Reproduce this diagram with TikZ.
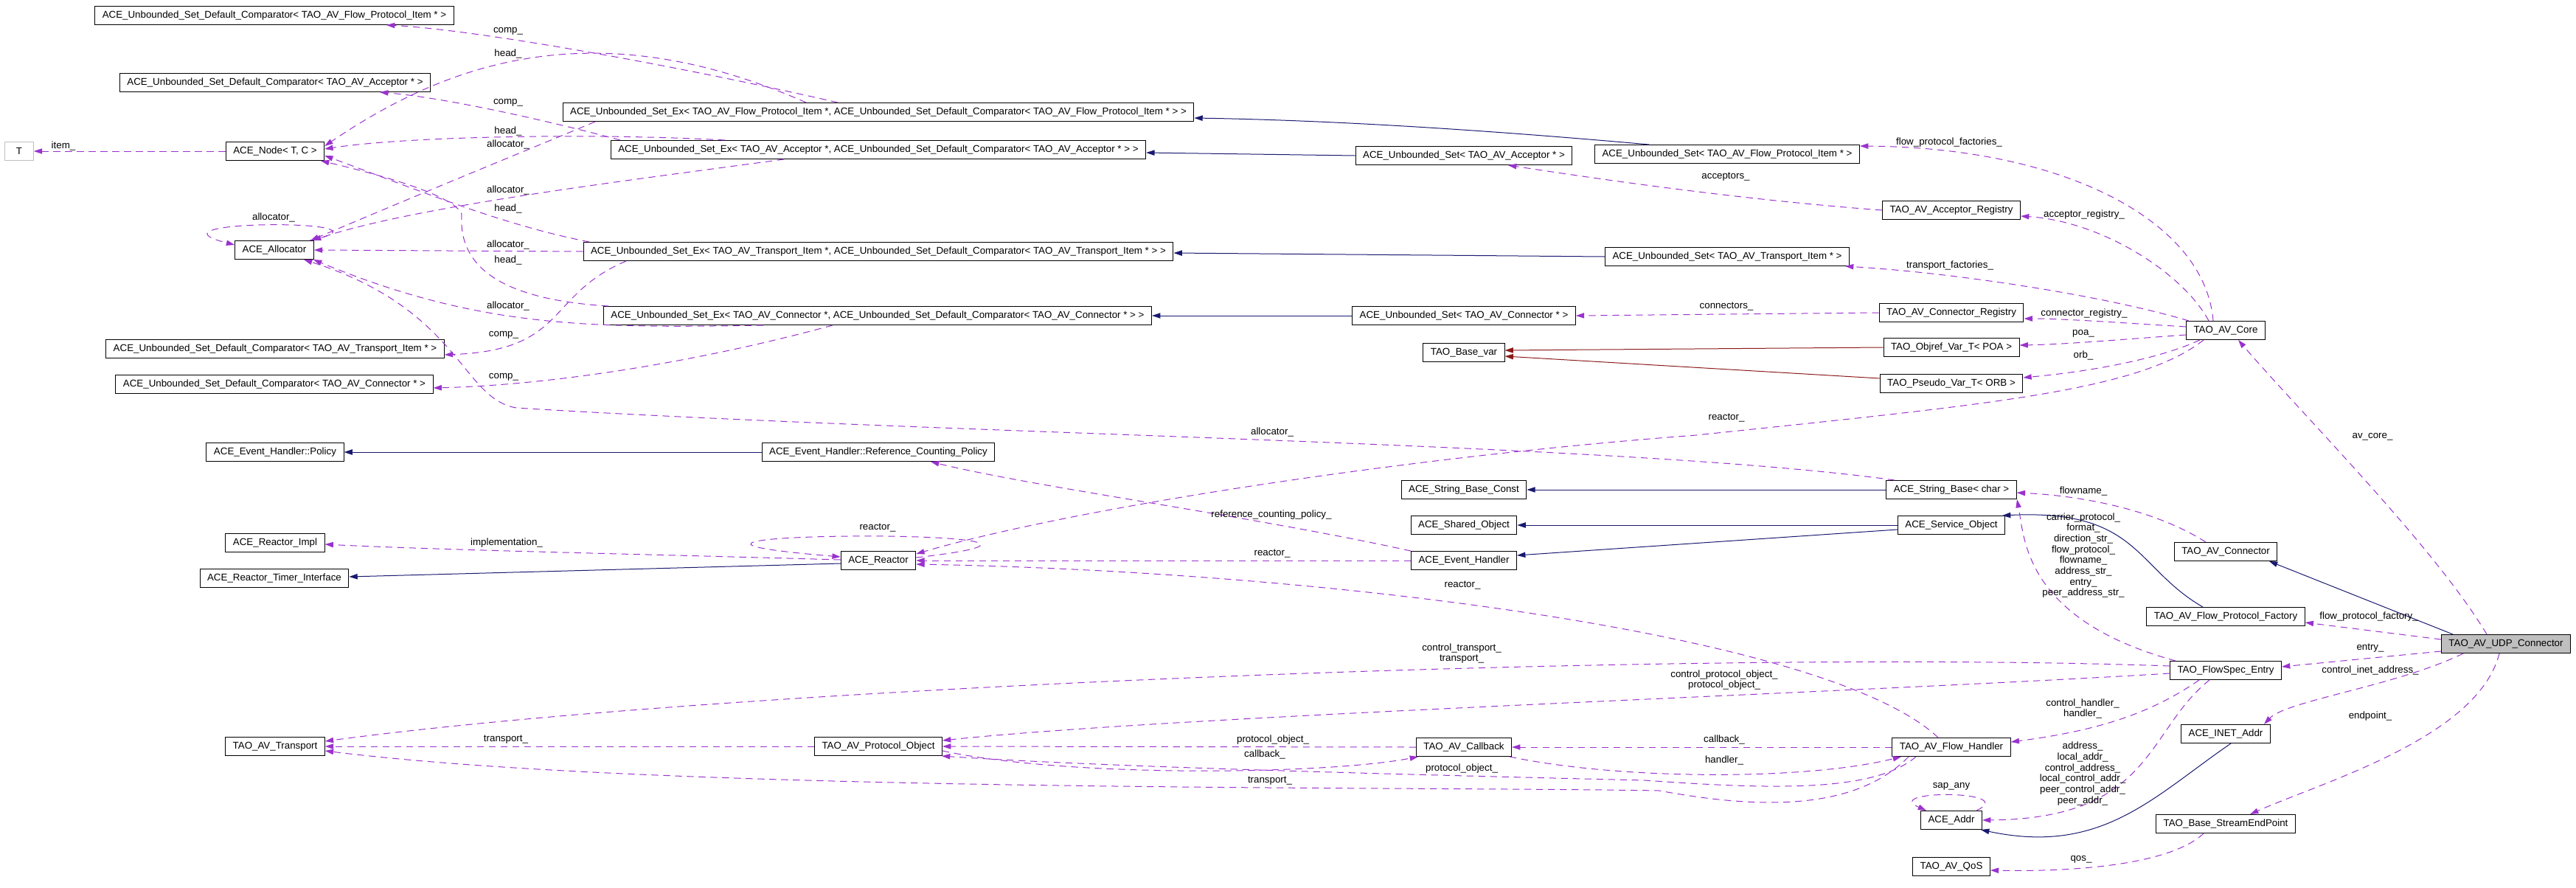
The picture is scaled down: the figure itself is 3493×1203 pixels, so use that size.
\documentclass[tikz,border=0pt]{standalone}
\usepackage{fontspec}
\setmainfont{Liberation Sans}
\usetikzlibrary{arrows.meta,calc}

\definecolor{usecol}{HTML}{9A32CD}
\definecolor{isacol}{HTML}{191970}
\definecolor{tplcol}{HTML}{8B1A1A}
\definecolor{rootfill}{HTML}{BFBFBF}

\tikzset{
    %Define standard arrow tip
    >={Triangle[length=8.5pt,width=5.5pt]},
    %Define style for boxes
    classbox/.style={
           rectangle,
           draw=black, line width=0.75pt,
           minimum height=18.75pt,
           inner xsep=7.5pt, inner ysep=0pt,
           font=\fontsize{10}{11}\selectfont,
           text centered,
           },
    rootbox/.style={
           classbox,
           fill=rootfill,
           },
    extbox/.style={
           classbox,
           draw=rootfill,
           minimum width=29pt,
           },
    lbl/.style={
           font=\fontsize{10}{11}\selectfont,
           inner sep=0pt,
           align=center,
           },
    % Define arrow styles
    member/.style={
           ->,
           draw=usecol, line width=0.75pt,
           dash pattern=on 7pt off 5pt,},
    isa/.style={
           ->,
           draw=isacol, line width=0.75pt,},
    tpl/.style={
           ->,
           draw=tplcol, line width=0.75pt,},
}

\begin{document}
\begin{tikzpicture}[x=0.75pt,y=-0.75pt]
\useasboundingbox (0,0) rectangle (3493,1203);
% first column
\node[classbox] (CompFPI) at (372,21) {ACE\_Unbounded\_Set\_Default\_Comparator< TAO\_AV\_Flow\_Protocol\_Item * >};
\node[classbox] (CompAcc) at (373,112) {ACE\_Unbounded\_Set\_Default\_Comparator< TAO\_AV\_Acceptor * >};
\node[extbox] (T) at (26,205) {T};
\node[classbox] (ACENode) at (373,205) {ACE\_Node< T, C >};
\node[classbox] (Alloc) at (372,339) {ACE\_Allocator};
\node[classbox] (CompTI) at (373,473) {ACE\_Unbounded\_Set\_Default\_Comparator< TAO\_AV\_Transport\_Item * >};
\node[classbox] (CompConn) at (372,521) {ACE\_Unbounded\_Set\_Default\_Comparator< TAO\_AV\_Connector * >};
\node[classbox] (EHPolicy) at (373,613) {ACE\_Event\_Handler::Policy};
\node[classbox] (ReactorImpl) at (373,736) {ACE\_Reactor\_Impl};
\node[classbox] (ReactorTimer) at (372,784) {ACE\_Reactor\_Timer\_Interface};
\node[classbox] (Transport) at (373,1012) {TAO\_AV\_Transport};
% second column
\node[classbox] (ExFPI) at (1191,152) {ACE\_Unbounded\_Set\_Ex< TAO\_AV\_Flow\_Protocol\_Item *, ACE\_Unbounded\_Set\_Default\_Comparator< TAO\_AV\_Flow\_Protocol\_Item * > >};
\node[classbox] (ExAcc) at (1191,203) {ACE\_Unbounded\_Set\_Ex< TAO\_AV\_Acceptor *, ACE\_Unbounded\_Set\_Default\_Comparator< TAO\_AV\_Acceptor * > >};
\node[classbox] (ExTI) at (1191,341) {ACE\_Unbounded\_Set\_Ex< TAO\_AV\_Transport\_Item *, ACE\_Unbounded\_Set\_Default\_Comparator< TAO\_AV\_Transport\_Item * > >};
\node[classbox] (ExConn) at (1190,428) {ACE\_Unbounded\_Set\_Ex< TAO\_AV\_Connector *, ACE\_Unbounded\_Set\_Default\_Comparator< TAO\_AV\_Connector * > >};
\node[classbox] (RefCount) at (1191,613) {ACE\_Event\_Handler::Reference\_Counting\_Policy};
\node[classbox] (Reactor) at (1191,760) {ACE\_Reactor};
\node[classbox] (PO) at (1191,1012) {TAO\_AV\_Protocol\_Object};
% third column
\node[classbox] (UAcc) at (1985,211) {ACE\_Unbounded\_Set< TAO\_AV\_Acceptor * >};
\node[classbox] (UConn) at (1985,428) {ACE\_Unbounded\_Set< TAO\_AV\_Connector * >};
\node[classbox] (BaseVar) at (1985,478) {TAO\_Base\_var};
\node[classbox] (StrConst) at (1985,664) {ACE\_String\_Base\_Const};
\node[classbox] (SharedObj) at (1985,712) {ACE\_Shared\_Object};
\node[classbox] (EHandler) at (1985,760) {ACE\_Event\_Handler};
\node[classbox] (Callback) at (1985,1013) {TAO\_AV\_Callback};
\node[classbox] (UFPI) at (2342,209) {ACE\_Unbounded\_Set< TAO\_AV\_Flow\_Protocol\_Item * >};
\node[classbox] (UTI) at (2342,348) {ACE\_Unbounded\_Set< TAO\_AV\_Transport\_Item * >};
% fourth column
\node[classbox] (AccReg) at (2646,285) {TAO\_AV\_Acceptor\_Registry};
\node[classbox] (ConnReg) at (2646,424) {TAO\_AV\_Connector\_Registry};
\node[classbox] (ObjrefPOA) at (2646,471) {TAO\_Objref\_Var\_T< POA >};
\node[classbox] (PseudoORB) at (2646,520) {TAO\_Pseudo\_Var\_T< ORB >};
\node[classbox] (StrBase) at (2646,664) {ACE\_String\_Base< char >};
\node[classbox] (ServiceObj) at (2646,712) {ACE\_Service\_Object};
\node[classbox] (FH) at (2646,1013) {TAO\_AV\_Flow\_Handler};
\node[classbox] (ACEAddr) at (2646,1112) {ACE\_Addr};
\node[classbox] (QoS) at (2646,1175) {TAO\_AV\_QoS};
% fifth column
\node[classbox] (AVCore) at (3018,448) {TAO\_AV\_Core};
\node[classbox] (Connector) at (3018,748) {TAO\_AV\_Connector};
\node[classbox] (FPF) at (3018,836) {TAO\_AV\_Flow\_Protocol\_Factory};
\node[classbox] (FlowSpec) at (3018,909) {TAO\_FlowSpec\_Entry};
\node[classbox] (INET) at (3018,995) {ACE\_INET\_Addr};
\node[classbox] (BSEP) at (3018,1117) {TAO\_Base\_StreamEndPoint};
\node[rootbox] (UDP) at (3398,873) {TAO\_AV\_UDP\_Connector};

% sets and their parts
\draw[member] (ACENode.west) -- (T.east) node[lbl] at (86,198) {item\_};
\draw[member] ($(ExFPI.north)+(-55,0)$) .. controls (900,85) and (640,40) .. ($(CompFPI.south)+(152,0)$) node[lbl] at (689,42) {comp\_};
\draw[member] ($(ExFPI.north)+(-98,0)$) .. controls (800,10) and (600,90) .. ($(ACENode.east)+(0,-7)$) node[lbl] at (689,73) {head\_};
\draw[member] ($(ExFPI.south)+(-384,0)$) .. controls (760,185) and (600,250) .. ($(Alloc.north)+(49,0)$) node[lbl] at (689,196) {allocator\_};
\draw[member] ($(ExAcc.north)+(-350,0)$) .. controls (760,168) and (610,133) .. ($(CompAcc.south)+(142,0)$) node[lbl] at (689,139) {comp\_};
\draw[member] ($(ExAcc.north)+(-208,0)$) .. controls (800,180) and (550,185) .. ($(ACENode.east)+(0,-3)$) node[lbl] at (689,178) {head\_};
\draw[member] ($(ExAcc.south)+(-128,0)$) .. controls (850,245) and (560,280) .. ($(Alloc.north)+(52,0)$) node[lbl] at (689,258) {allocator\_};
\draw[member] ($(ExTI.north)+(-392,0)$) .. controls (680,305) and (560,255) .. ($(ACENode.east)+(0,6)$) node[lbl] at (689,283) {head\_};
\draw[member] (ExTI.west) -- (Alloc.east) node[lbl] at (689,332) {allocator\_};
\draw[member] ($(ExTI.south)+(-342,0)$) .. controls (740,400) and (770,475) .. ($(CompTI.east)+(0,8)$) node[lbl] at (683,454) {comp\_};
\draw[member] ($(ExConn.north)+(-365,0)$) .. controls (660,405) and (622,350) .. (626,290) .. controls (615,265) and (520,238) .. ($(ACENode.south)+(62,0)$) node[lbl] at (689,353) {head\_};
\draw[member] ($(ExConn.south)+(-155,0)$) .. controls (800,445) and (650,445) .. ($(Alloc.south)+(53,0)$) node[lbl] at (689,415) {allocator\_};
\draw[member] ($(ExConn.south)+(-61,0)$) .. controls (950,490) and (750,522) .. ($(CompConn.east)+(0,5)$) node[lbl] at (683,511) {comp\_};
\draw[member] ($(Alloc.north)+(48,0)$) .. controls (560,297) and (180,297) .. ($(Alloc.west)+(0,-7)$) node[lbl] at (371,295) {allocator\_};
\draw[isa] ($(UFPI.north)+(-106,0)$) .. controls (2000,175) and (1800,163) .. ($(ExFPI.east)+(0,8)$);
\draw[isa] (UAcc.west) -- ($(ExAcc.east)+(0,4)$);
\draw[isa] (UTI.west) -- ($(ExTI.east)+(0,2)$);
\draw[isa] (UConn.west) -- (ExConn.east);

% registries and core
\draw[member] (AccReg.west) .. controls (2350,270) and (2150,240) .. ($(UAcc.south)+(60,0)$) node[lbl] at (2340,240) {acceptors\_};
\draw[member] (ConnReg.west) -- (UConn.east) node[lbl] at (2341,416) {connectors\_};
\draw[member] ($(AVCore.north)+(-17,0)$) .. controls (2990,300) and (2800,200) .. ($(UFPI.east)+(0,-11)$) node[lbl] at (2643,193) {flow\_protocol\_factories\_};
\draw[member] ($(AVCore.north)+(-23,0)$) .. controls (2960,370) and (2850,300) .. ($(AccReg.east)+(0,8)$) node[lbl] at (2826,291) {acceptor\_registry\_};
\draw[member] ($(AVCore.north)+(-50,0)$) .. controls (2850,400) and (2650,370) .. ($(UTI.south)+(160,0)$) node[lbl] at (2644,360) {transport\_factories\_};
\draw[member] ($(AVCore.west)+(0,-5)$) .. controls (2880,438) and (2800,432) .. ($(ConnReg.east)+(0,8)$) node[lbl] at (2826,425) {connector\_registry\_};
\draw[member] ($(AVCore.west)+(0,6)$) .. controls (2880,460) and (2800,467) .. ($(ObjrefPOA.east)+(0,-3)$) node[lbl] at (2825,452) {poa\_};
\draw[member] ($(AVCore.south)+(-35,0)$) .. controls (2920,490) and (2820,505) .. ($(PseudoORB.east)+(0,-8)$) node[lbl] at (2825,482) {orb\_};
\draw[member] ($(AVCore.south)+(-30,0)$) .. controls (2900,530) and (2700,548) .. (2300,590) .. controls (1900,620) and (1450,690) .. ($(Reactor.east)+(0,-9)$) node[lbl] at (2341,567) {reactor\_};
\draw[tpl] (ObjrefPOA.west) -- ($(BaseVar.east)+(0,-3)$);
\draw[tpl] ($(PseudoORB.west)+(0,-7)$) -- ($(BaseVar.east)+(0,5)$);

% strings and event handling
\draw[isa] (StrBase.west) -- (StrConst.east);
\draw[isa] (ServiceObj.west) -- (SharedObj.east);
\draw[isa] ($(ServiceObj.west)+(0,6)$) -- ($(EHandler.east)+(0,-7)$);
\draw[member] ($(StrBase.north)+(-77,0)$) .. controls (2200,600) and (1300,590) .. (700,553) .. controls (625,540) and (625,420) .. ($(Alloc.south)+(40,0)$) node[lbl] at (1725,586) {allocator\_};
\draw[member] (EHandler.north west) .. controls (1700,700) and (1400,660) .. ($(RefCount.south)+(71,0)$) node[lbl] at (1724,698) {reference\_counting\_policy\_};
\draw[isa] (RefCount.west) -- (EHPolicy.east);
\draw[member] (EHandler.west) -- (Reactor.east) node[lbl] at (1725,751) {reactor\_};
\draw[member] ($(Reactor.east)+(0,-4)$) .. controls (1600,715) and (720,720) .. ($(Reactor.west)+(0,-5)$) node[lbl] at (1190,716) {reactor\_};
\draw[member] ($(Reactor.west)+(0,-1)$) .. controls (900,752) and (600,746) .. ($(ReactorImpl.east)+(0,2)$) node[lbl] at (687,736) {implementation\_};
\draw[isa] ($(Reactor.west)+(0,4)$) -- ($(ReactorTimer.east)+(0,-2)$);

% the UDP connector
\draw[member] ($(Connector.north)+(-27,0)$) .. controls (2920,690) and (2820,672) .. ($(StrBase.east)+(0,4)$) node[lbl] at (2825,666) {flowname\_};
\draw[isa] ($(FPF.north)+(-31,0)$) .. controls (2895,770) and (2900,690) .. ($(ServiceObj.north)+(69,0)$);
\draw[isa] ($(UDP.north)+(-72,0)$) -- ($(Connector.south)+(59,0)$);
\draw[member] ($(UDP.north)+(-26,0)$) .. controls (3300,740) and (3120,560) .. ($(AVCore.south)+(17,0)$) node[lbl] at (3217,592) {av\_core\_};
\draw[member] ($(UDP.west)+(0,-6)$) -- ($(FPF.east)+(0,8)$) node[lbl] at (3212,836) {flow\_protocol\_factory\_};
\draw[member] ($(UDP.west)+(0,10)$) -- ($(FlowSpec.east)+(0,-5)$) node[lbl] at (3214,879) {entry\_};
\draw[member] ($(UDP.south)+(-58,0)$) .. controls (3250,930) and (3100,950) .. ($(INET.north)+(52,0)$) node[lbl] at (3214,909) {control\_inet\_address\_};
\draw[member] ($(UDP.south)+(-9,0)$) .. controls (3360,1000) and (3150,1060) .. ($(BSEP.north)+(33,0)$) node[lbl] at (3214,971) {endpoint\_};

% flow spec entry
\draw[member] ($(FlowSpec.north)+(-68,0)$) .. controls (2745,840) and (2745,730) .. ($(StrBase.south)+(89,0)$) node[lbl] at (2825,753) {carrier\_protocol\_\\format\_\\direction\_str\_\\flow\_protocol\_\\flowname\_\\address\_str\_\\entry\_\\peer\_address\_str\_};
\draw[member] ($(FlowSpec.west)+(0,-6)$) .. controls (2300,880) and (1000,930) .. ($(Transport.east)+(0,-7)$) node[lbl] at (1982,886) {control\_transport\_\\transport\_};
\draw[member] ($(FlowSpec.west)+(0,4)$) .. controls (2500,940) and (1600,970) .. ($(PO.east)+(0,-8)$) node[lbl] at (2338,922) {control\_protocol\_object\_\\protocol\_object\_};
\draw[member] ($(FlowSpec.south)+(-36,0)$) .. controls (2920,965) and (2850,990) .. ($(FH.east)+(0,-7)$) node[lbl] at (2824,961) {control\_handler\_\\handler\_};
\draw[member] ($(FlowSpec.south)+(-22,0)$) .. controls (2910,990) and (2920,1110) .. (ACEAddr.east) node[lbl] at (2824,1049) {address\_\\local\_addr\_\\control\_address\_\\local\_control\_addr\_\\peer\_control\_addr\_\\peer\_addr\_};
\draw[isa] ($(INET.south)+(7,0)$) .. controls (2920,1080) and (2850,1160) .. ($(ACEAddr.south)+(40,0)$);
\draw[member] ($(ACEAddr.north)+(34,0)$) .. controls (2740,1071) and (2550,1071) .. ($(ACEAddr.north)+(-34,0)$) node[lbl] at (2646,1066) {sap\_any};
\draw[member] ($(BSEP.south)+(-30,0)$) .. controls (2940,1175) and (2800,1182) .. ($(QoS.east)+(0,5)$) node[lbl] at (2822,1165) {qos\_};

% flow handler, callback, protocol object, transport
\draw[member] (FH.west) -- (Callback.east) node[lbl] at (2338,1003) {callback\_};
\draw[member] (Callback.west) -- (PO.east) node[lbl] at (1726,1003) {protocol\_object\_};
\draw[member] (PO.west) -- (Transport.east) node[lbl] at (686,1003) {transport\_};
\draw[member] ($(PO.east)+(0,6)$) .. controls (1450,1055) and (1800,1050) .. ($(Callback.south)+(-62,0)$) node[lbl] at (1715,1023) {callback\_};
\draw[member] ($(Callback.south)+(62,0)$) .. controls (2200,1058) and (2450,1058) .. ($(FH.south)+(-68,0)$) node[lbl] at (2338,1031) {handler\_};
\draw[member] ($(FH.south)+(-48,0)$) .. controls (2540,1075) and (2400,1070) .. (2230,1058) .. controls (1900,1050) and (1500,1040) .. ($(PO.south)+(86,0)$) node[lbl] at (1982,1042) {protocol\_object\_};
\draw[member] ($(FH.south)+(-58,0)$) .. controls (2520,1095) and (2400,1100) .. (2250,1072) .. controls (1900,1066) and (900,1075) .. ($(Transport.east)+(0,6)$) node[lbl] at (1722,1059) {transport\_};
\draw[member] ($(FH.north)+(-18,0)$) .. controls (2480,860) and (1800,775) .. ($(Reactor.east)+(0,5)$) node[lbl] at (1983,794) {reactor\_};
\end{tikzpicture}
\end{document}
